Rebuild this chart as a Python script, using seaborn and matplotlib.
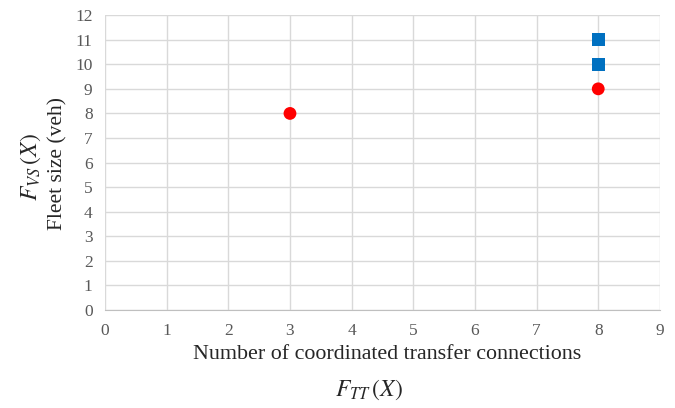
import matplotlib
matplotlib.use("Agg")
import matplotlib.pyplot as plt
import seaborn as sns
import pandas as pd

# data
red_x = [3, 8]
red_y = [8, 9]
blue_x = [8, 8]
blue_y = [10, 11]
x_ticks = list(range(0, 10))
y_ticks = list(range(0, 13))

df = pd.DataFrame({
    "x": red_x + blue_x,
    "y": red_y + blue_y,
    "group": ["red"] * len(red_x) + ["blue"] * len(blue_x),
})

sns.set_style("white")
plt.rcParams["font.family"] = ["Liberation Serif", "DejaVu Serif"]
plt.rcParams["mathtext.fontset"] = "stix"

fig = plt.figure(figsize=(6.75, 4.08), dpi=100)
ax = fig.add_axes([0.1556, 0.240, 0.822, 0.723])

sns.scatterplot(data=df, x="x", y="y", hue="group", style="group",
                palette={"red": "#FF0000", "blue": "#0070C0"},
                markers={"red": "o", "blue": "s"},
                s=85, linewidth=0, legend=False, ax=ax, zorder=3)

ax.set_xlim(0, 9)
ax.set_ylim(0, 12)
ax.set_xticks(x_ticks)
ax.set_yticks(y_ticks)
ax.grid(True, color="#D9D9D9", linewidth=1)
ax.set_axisbelow(True)
for side in ["top", "right", "left"]:
    ax.spines[side].set_visible(False)
ax.spines["bottom"].set_color("#BFBFBF")
ax.tick_params(axis="both", length=0, labelsize=12.5, labelcolor="#595959", pad=9)
ax.set_xlabel("")
ax.set_ylabel("")

fig.text(0.573, 0.130, "Number of coordinated transfer connections",
         ha="center", va="center", fontsize=15.8)
fig.text(0.547, 0.044, r"$F_{TT}\,(X)$", ha="center", va="center", fontsize=17)
fig.text(0.086, 0.60, "Fleet size (veh)", ha="center", va="center",
         rotation=90, fontsize=15.5)
fig.text(0.045, 0.59, r"$F_{VS}\,(X)$", ha="center", va="center",
         rotation=90, fontsize=17)

fig.savefig("out.png", dpi=100)
